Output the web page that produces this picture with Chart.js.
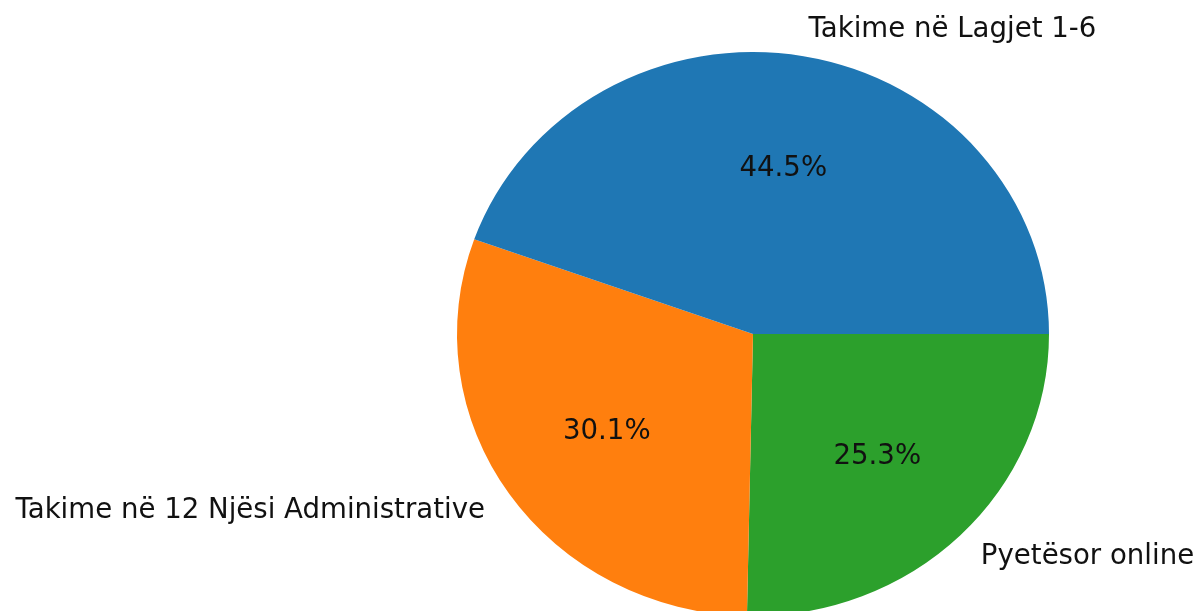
<!DOCTYPE html>
<html>
<head>
<meta charset="utf-8">
<script src="https://cdn.jsdelivr.net/npm/chart.js@4.4.1/dist/chart.umd.min.js"></script>
<style>
  html, body { margin: 0; padding: 0; background: #fff; overflow: hidden; }
  #wrap { width: 1197px; height: 650px; }
</style>
</head>
<body>
<div id="wrap"><canvas id="pie-chart"></canvas></div>
<script>
// drawn clockwise from 3 o'clock, so order is reversed vs. the matplotlib one
var labels = ["Pyetësor online", "Takime në 12 Njësi Administrative", "Takime në Lagjet 1-6"];
var values = [25.3, 30.1, 44.5];
var colors = ["#2ca02c", "#ff7f0e", "#1f77b4"];

var squash = 282 / 296; // the original pie is slightly flattened

var ellipse = {
    id: 'ellipse',
    beforeDatasetsDraw: function (chart) {
        var arc = chart.getDatasetMeta(0).data[0];
        var ctx = chart.ctx;
        ctx.save();
        ctx.translate(arc.x, arc.y);
        ctx.scale(1, squash);
        ctx.translate(-arc.x, -arc.y);
    },
    afterDatasetsDraw: function (chart) {
        chart.ctx.restore();
    }
};

var pieLabels = {
    id: 'pieLabels',
    afterDraw: function (chart) {
        var ctx = chart.ctx;
        var meta = chart.getDatasetMeta(0);
        var total = values.reduce(function (a, b) { return a + b; }, 0);
        ctx.save();
        ctx.fillStyle = "#111";
        ctx.font = "27.6px 'DejaVu Sans'";
        ctx.textBaseline = "middle";
        meta.data.forEach(function (arc, i) {
            var mid = (arc.startAngle + arc.endAngle) / 2;
            var r = arc.outerRadius;
            var cx = arc.x, cy = arc.y;
            var lx = cx + 1.1 * r * Math.cos(mid);
            var ly = cy + 1.1 * r * squash * Math.sin(mid) + 1;
            ctx.textAlign = Math.cos(mid) >= 0 ? "left" : "right";
            ctx.fillText(labels[i], lx, ly);
            var px = cx + 0.6 * r * Math.cos(mid);
            var py = cy + 0.6 * r * squash * Math.sin(mid) + 2;
            ctx.textAlign = "center";
            ctx.fillText((values[i] / total * 100).toFixed(1) + "%", px, py);
        });
        ctx.restore();
    }
};

var ctx = document.getElementById("pie-chart");
new Chart(ctx, {
    type: 'pie',
    data: {
        labels: labels,
        datasets: [{
            data: values,
            backgroundColor: colors,
            borderWidth: 0
        }]
    },
    options: {
        responsive: true,
        maintainAspectRatio: false,
        animation: false,
        rotation: 90,
        layout: { padding: { left: 457, right: 148, top: 38, bottom: 20 } },
        plugins: {
            legend: { display: false },
            tooltip: { enabled: false }
        }
    },
    plugins: [ellipse, pieLabels]
});
</script>
</body>
</html>
